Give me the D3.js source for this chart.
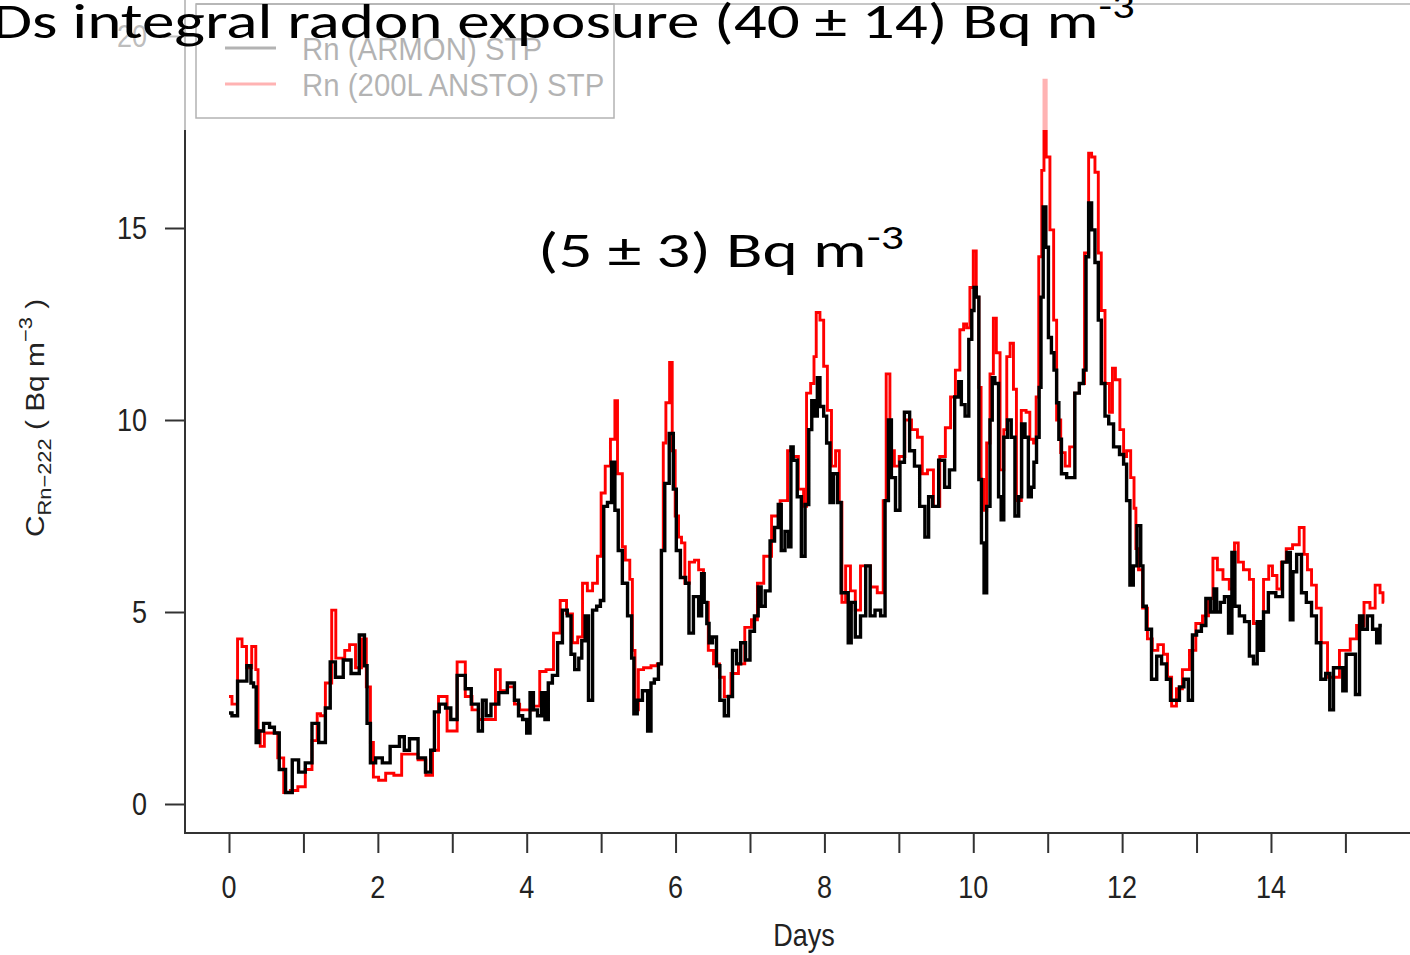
<!DOCTYPE html>
<html>
<head>
<meta charset="utf-8">
<script src="https://cdn.jsdelivr.net/npm/d3@7"></script>
<style>
  body { margin: 0; background: #fff; }
  svg { display: block; }
  .rtxt { font-family: "Liberation Sans", Arial, sans-serif; fill: #222; }
  .slide { font-family: Carlito, Lato, "Open Sans", sans-serif; fill: #000; }
</style>
</head>
<body>
<div id="chart"></div>
<script>
// radon time series (days, Bq m-3)
var armonDays = [0.00,0.08,0.15,0.20,0.28,0.31,0.35,0.38,0.42,0.51,0.58,0.64,0.71,0.81,0.89,0.98,1.07,1.16,1.25,1.34,1.38,1.48,1.59,1.69,1.81,1.83,1.88,1.92,2.02,2.10,2.23,2.35,2.36,2.49,2.59,2.69,2.73,2.79,2.86,2.96,3.00,3.13,3.22,3.29,
  3.33,3.37,3.44,3.47,3.57,3.68,3.80,3.87,3.91,3.98,4.02,4.07,4.11,4.18,4.22,4.27,4.31,4.38,4.45,4.51,4.58,4.61,4.68,4.72,4.76,4.81,4.85,4.92,4.96,5.02,5.05,5.12,5.16,5.21,5.25,5.32,5.39,5.43,5.45,5.52,5.59,5.66,5.68,5.75,5.79,5.83,5.88,5.95,5.99,6.03,6.10,6.17,6.19,6.29,6.33,6.37,6.40,6.44,6.46,6.53,
  6.57,6.62,6.69,6.73,6.80,6.84,6.91,6.97,7.03,7.09,7.13,7.17,7.24,7.30,7.36,7.40,7.44,7.50,7.54,7.56,7.60,7.67,7.71,7.77,7.81,7.85,7.90,7.91,7.97,8.01,8.05,8.10,8.14,8.21,8.24,8.30,8.34,8.38,8.45,8.52,8.59,8.64,8.72,8.79,8.84,8.88,8.92,8.99,9.04,9.11,9.18,9.24,9.32,9.38,9.42,9.49,9.58,9.65,9.71,9.79,
  9.82,9.86,9.92,9.96,10.00,10.02,10.06,10.09,10.13,10.16,10.20,10.25,10.26,10.32,10.36,10.39,10.43,10.49,10.53,10.59,10.63,10.67,10.72,10.76,10.80,10.83,10.87,10.90,10.92,10.96,10.99,11.03,11.07,11.10,11.14,11.16,11.21,11.30,11.34,11.39,11.46,11.50,11.53,11.57,11.61,11.66,11.70,11.74,11.80,11.84,11.93,
  12.00,12.04,12.08,12.13,12.17,12.23,12.27,12.29,12.36,12.43,12.50,12.56,12.63,12.67,12.74,12.80,12.86,12.92,12.97,13.03,13.10,13.15,13.22,13.25,13.29,13.35,13.40,13.46,13.49,13.54,13.61,13.68,13.74,13.79,13.84,13.88,13.92,14.01,14.12,14.19,14.24,14.28,14.31,14.38,14.44,14.51,14.58,14.64,14.70,14.77,14.81,14.87,14.94,14.99,15.03,15.10,15.17,15.21,15.26,15.33,15.40,15.44,15.49];
var armonVals = [2.37,2.30,3.20,3.20,3.60,3.15,3.05,1.60,1.90,2.10,2.00,1.85,0.90,0.30,1.15,0.83,1.07,2.10,1.60,2.50,3.70,3.30,3.75,3.40,4.40,3.60,2.10,1.07,1.20,1.07,1.50,1.75,1.40,1.70,1.20,0.83,1.40,2.40,2.60,2.50,2.20,3.35,3.00,2.60,
  2.60,1.90,2.70,2.30,2.60,2.90,3.15,2.70,2.30,2.20,1.85,2.90,2.45,2.30,2.90,2.20,3.15,3.35,4.20,5.05,4.90,3.90,3.50,3.80,4.25,4.90,2.70,5.05,5.15,5.30,7.75,7.85,8.90,7.65,6.60,5.75,4.90,3.80,2.35,2.70,2.95,1.90,3.15,3.25,3.65,6.60,8.35,9.65,8.20,6.60,5.90,5.75,4.45,5.40,4.90,6.00,5.25,4.70,4.20,4.35,
  3.60,2.70,2.30,2.80,4.00,3.65,4.20,3.75,4.50,4.90,5.65,5.15,5.55,6.85,7.20,7.80,6.60,7.10,6.70,9.30,8.95,8.00,6.45,7.80,9.75,10.50,10.10,11.10,10.35,10.10,9.40,7.85,8.60,7.85,5.50,5.50,4.20,5.25,4.35,4.90,6.20,4.90,5.05,4.90,7.90,10.00,8.50,7.65,8.90,10.20,9.20,8.80,7.75,6.95,8.00,7.75,8.95,8.25,8.70,10.60,
  11.00,10.40,10.10,12.10,12.85,13.45,13.20,8.45,6.80,5.50,7.75,10.00,11.10,10.95,8.00,7.40,9.55,10.00,9.55,7.50,8.00,9.90,9.55,8.00,8.25,8.90,9.55,10.85,13.20,15.55,14.50,12.15,11.75,11.30,10.45,9.50,8.60,8.50,8.50,10.70,10.95,11.30,14.25,15.65,14.95,14.10,12.60,10.95,10.10,9.90,9.30,
  9.10,8.85,7.90,5.70,6.20,7.25,6.20,5.15,4.55,3.25,3.85,3.65,3.25,2.70,2.70,3.05,3.25,2.70,4.40,4.50,4.65,5.35,5.00,5.60,5.00,5.25,5.40,4.45,6.55,5.15,4.90,4.75,3.85,3.65,4.75,4.00,5.00,5.50,5.40,6.30,6.55,4.80,6.05,6.50,5.50,5.25,4.90,4.20,3.25,3.40,2.45,3.55,3.55,2.95,3.90,3.90,2.85,4.90,4.55,4.90,4.55,4.20,4.65];

var anstoDays = [0.00,0.08,0.15,0.20,0.27,0.34,0.38,0.40,0.44,0.51,0.62,0.69,0.78,0.87,0.98,1.07,1.16,1.21,1.25,1.34,1.42,1.45,1.52,1.59,1.65,1.75,1.81,1.88,1.92,1.96,2.06,2.15,2.28,2.36,2.49,2.59,2.70,2.77,2.86,3.00,3.13,3.22,3.31,
  3.40,3.55,3.61,3.68,3.80,3.87,3.94,4.04,4.14,4.21,4.31,4.41,4.49,4.58,4.65,4.72,4.78,4.85,4.92,4.98,5.02,5.09,5.16,5.21,5.23,5.28,5.29,5.36,5.41,5.43,5.48,5.52,5.62,5.72,5.79,5.83,5.84,5.90,5.94,5.97,6.02,6.06,6.10,6.15,6.22,6.29,6.33,6.42,6.46,6.56,
  6.62,6.69,6.80,6.89,6.97,7.07,7.13,7.24,7.34,7.47,7.54,7.60,7.70,7.74,7.78,7.85,7.87,7.91,7.97,8.01,8.07,8.12,8.18,8.22,8.25,8.32,8.38,8.45,8.52,8.59,8.65,8.77,8.81,8.85,8.91,8.97,9.04,9.12,9.22,9.28,9.35,9.42,9.51,9.59,9.66,9.73,9.79,9.85,
  9.89,9.93,9.98,10.02,10.06,10.09,10.12,10.16,10.20,10.25,10.29,10.33,10.39,10.43,10.47,10.52,10.56,10.60,10.69,10.73,10.79,10.83,10.86,10.90,10.94,10.96,11.00,11.06,11.10,11.14,11.21,11.26,11.33,11.39,11.46,11.53,11.57,11.61,11.66,11.70,11.74,11.80,11.86,11.88,11.94,
  12.00,12.04,12.08,12.15,12.17,12.20,12.24,12.31,12.37,12.44,12.52,12.59,12.63,12.70,12.76,12.86,12.95,13.03,13.13,13.19,13.25,13.31,13.40,13.48,13.54,13.58,13.68,13.74,13.79,13.85,13.95,13.99,14.05,14.11,14.17,14.24,14.34,14.42,14.47,14.51,14.58,14.64,14.71,14.81,14.87,14.97,15.03,15.10,15.20,15.30,15.36,15.44,15.49,15.52];
var anstoVals = [2.80,2.60,4.30,4.10,3.55,4.10,3.50,1.90,1.50,1.85,1.85,1.20,0.30,0.35,0.45,0.90,1.65,2.35,2.30,3.15,5.05,3.80,3.80,4.00,4.15,3.55,4.30,3.05,1.60,0.70,0.62,0.80,0.75,1.30,1.30,1.15,0.75,1.40,2.80,1.90,3.70,2.80,2.45,
  2.20,2.20,3.50,2.95,3.05,2.60,2.45,2.45,2.55,3.45,3.50,4.45,5.30,4.95,4.20,4.35,5.75,5.55,5.75,6.45,8.10,8.80,9.50,10.50,8.60,8.60,6.70,6.35,5.85,4.00,2.45,3.50,3.55,3.60,3.65,6.60,9.40,10.45,11.50,9.20,7.50,6.95,6.80,5.75,6.30,6.35,6.10,5.25,4.00,3.65,
  3.30,2.80,3.40,3.65,4.60,4.80,5.75,6.45,7.50,7.90,9.20,9.05,8.20,7.75,10.70,10.95,11.65,12.80,12.60,11.40,10.25,8.80,9.20,7.85,5.25,6.20,5.55,5.05,6.20,6.20,5.65,5.50,7.90,11.20,9.20,8.80,9.05,10.00,9.75,9.55,8.60,8.70,7.75,9.05,9.80,10.60,11.30,12.35,
  12.50,12.40,13.45,14.40,13.20,10.85,8.45,7.65,9.40,11.20,12.65,11.75,8.70,9.75,11.65,12.00,10.80,7.90,10.25,10.20,9.50,9.40,10.60,14.25,16.50,18.85,16.85,14.95,12.60,10.00,9.15,8.80,9.30,10.70,10.95,14.35,16.95,16.85,16.45,14.35,12.85,10.95,10.20,11.35,11.05,
  9.75,9.05,9.20,8.50,7.70,6.65,6.10,5.10,4.30,4.00,4.15,3.90,3.30,2.55,3.00,3.50,4.00,4.70,4.90,5.35,6.40,6.10,5.85,5.60,6.80,6.30,6.10,5.85,4.70,4.70,5.85,6.20,5.95,5.60,6.30,6.65,6.75,7.20,6.50,6.10,5.70,5.10,4.20,3.30,3.30,4.00,4.00,4.30,4.65,5.25,5.10,5.70,5.50,5.25];

var yTicks = [0, 5, 10, 15, 20];
var xTicks = d3.range(0, 16);
var xLabels = [0, 2, 4, 6, 8, 10, 12, 14];
var legendLabels = ["Rn (ARMON) STP", "Rn (200L ANSTO) STP"];
var legendColors = ["#000", "#ff0000"];

var W = 1410, H = 955;
var stretch = 1.15;   // the R picture is pulled a bit taller than wide

var svg = d3.select("#chart").append("svg")
    .attr("width", W).attr("height", H);
svg.append("rect").attr("width", W).attr("height", H).attr("fill", "#fff");

var x = d3.scaleLinear().domain([0, 15]).range([229, 1345.4]);
var y = d3.scaleLinear().domain([0, 20]).range([804, 36]);

var line = d3.line()
    .x(function(d){ return x(d[0]); })
    .y(function(d){ return y(d[1]); })
    .curve(d3.curveStep);

var ansto = d3.zip(anstoDays, anstoVals);
var armon = d3.zip(armonDays, armonVals);

svg.append("path").datum(ansto)
    .attr("d", line).attr("fill", "none")
    .attr("stroke", "#ff0000").attr("stroke-width", 2.9).attr("stroke-linejoin", "miter");
svg.append("path").datum(armon)
    .attr("d", line).attr("fill", "none")
    .attr("stroke", "#000").attr("stroke-width", 3.4).attr("stroke-linejoin", "miter");

// L shaped box
svg.append("path")
    .attr("d", "M185,0V833H" + W)
    .attr("fill", "none").attr("stroke", "#333").attr("stroke-width", 2);

// y axis ticks + labels
var yAxis = svg.append("g").attr("transform", "translate(185,0)")
    .call(d3.axisLeft(y).tickValues(yTicks).tickSize(20).tickFormat(""));
yAxis.select(".domain").remove();
yAxis.selectAll(".tick line").attr("stroke", "#333").attr("stroke-width", 2);
svg.selectAll(".ylab").data(yTicks).enter().append("text")
    .attr("class", "rtxt ylab")
    .attr("transform", function(d){ return "translate(147," + y(d) + ") scale(1," + stretch + ")"; })
    .attr("dy", "0.36em")
    .attr("text-anchor", "end")
    .style("font-size", "27px")
    .text(function(d){ return d; });

// x axis ticks + labels
var xAxis = svg.append("g").attr("transform", "translate(0,833)")
    .call(d3.axisBottom(x).tickValues(xTicks).tickSize(20).tickFormat(""));
xAxis.select(".domain").remove();
xAxis.selectAll(".tick line").attr("stroke", "#333").attr("stroke-width", 2);
svg.selectAll(".xlab").data(xLabels).enter().append("text")
    .attr("class", "rtxt xlab")
    .attr("transform", function(d){ return "translate(" + x(d) + ",898) scale(1," + stretch + ")"; })
    .attr("text-anchor", "middle")
    .style("font-size", "27px")
    .text(function(d){ return d; });

svg.append("text")
    .attr("class", "rtxt")
    .attr("transform", "translate(804,946) scale(1," + stretch + ")")
    .attr("text-anchor", "middle")
    .style("font-size", "27px")
    .text("Days");

// y title  C_Rn-222 ( Bq m^-3 )
var yt = svg.append("text")
    .attr("class", "rtxt")
    .attr("transform", "translate(44,418) rotate(-90) scale(" + stretch + ",1)")
    .attr("text-anchor", "middle")
    .style("font-size", "26px");
yt.append("tspan").text("C");
yt.append("tspan").attr("dy", 7).style("font-size", "19px").text("Rn\u2212222");
yt.append("tspan").attr("dy", -7).text(" ( Bq m");
yt.append("tspan").attr("dy", -12).style("font-size", "19px").text("\u22123");
yt.append("tspan").attr("dy", 12).text(" )");

// R legend
var leg = svg.append("g");
leg.append("rect")
    .attr("x", 196).attr("y", 4).attr("width", 418).attr("height", 114)
    .attr("fill", "#fff").attr("stroke", "#000").attr("stroke-width", 1.5);
leg.selectAll(".lline").data(legendLabels).enter().append("line")
    .attr("x1", 225).attr("x2", 276)
    .attr("y1", function(d, i){ return 48 + i * 36; })
    .attr("y2", function(d, i){ return 48 + i * 36; })
    .attr("stroke", function(d, i){ return legendColors[i]; })
    .attr("stroke-width", 3);
leg.selectAll(".ltxt").data(legendLabels).enter().append("text")
    .attr("class", "rtxt")
    .attr("transform", function(d, i){ return "translate(302," + (60 + i * 36) + ") scale(1.05," + stretch + ")"; })
    .style("font-size", "28px").style("fill", "#000")
    .text(function(d){ return d; });
svg.append("line")
    .attr("x1", 196).attr("x2", W).attr("y1", 4).attr("y2", 4)
    .attr("stroke", "#000").attr("stroke-width", 1.5);

// pale band laid over the top of the plot
svg.append("rect")
    .attr("x", 0).attr("y", 0).attr("width", W).attr("height", 130)
    .attr("fill", "#fff").attr("opacity", 0.7);

// slide annotations
function fitWidth(sel, x0, x1, base) {
    var bb = sel.node().getBBox();
    var k = (x1 - x0) / bb.width;
    sel.attr("transform", "translate(" + x0 + "," + base + ") scale(" + k + ",1) translate(" + (-bb.x) + ",0)");
}

var t1 = svg.append("text").attr("class", "slide").style("font-size", "50px");
t1.append("tspan").text("Ds integral radon exposure (40 \u00b1 14) Bq m");
t1.append("tspan").attr("dy", -20).style("font-size", "34px").text("-3");
fitWidth(t1, -8, 1135, 38);

var t2 = svg.append("text").attr("class", "slide").style("font-size", "50px");
t2.append("tspan").text("(5 \u00b1 3) Bq m");
t2.append("tspan").attr("dy", -18).style("font-size", "34px").text("-3");
fitWidth(t2, 538, 904, 267);
</script>
</body>
</html>
